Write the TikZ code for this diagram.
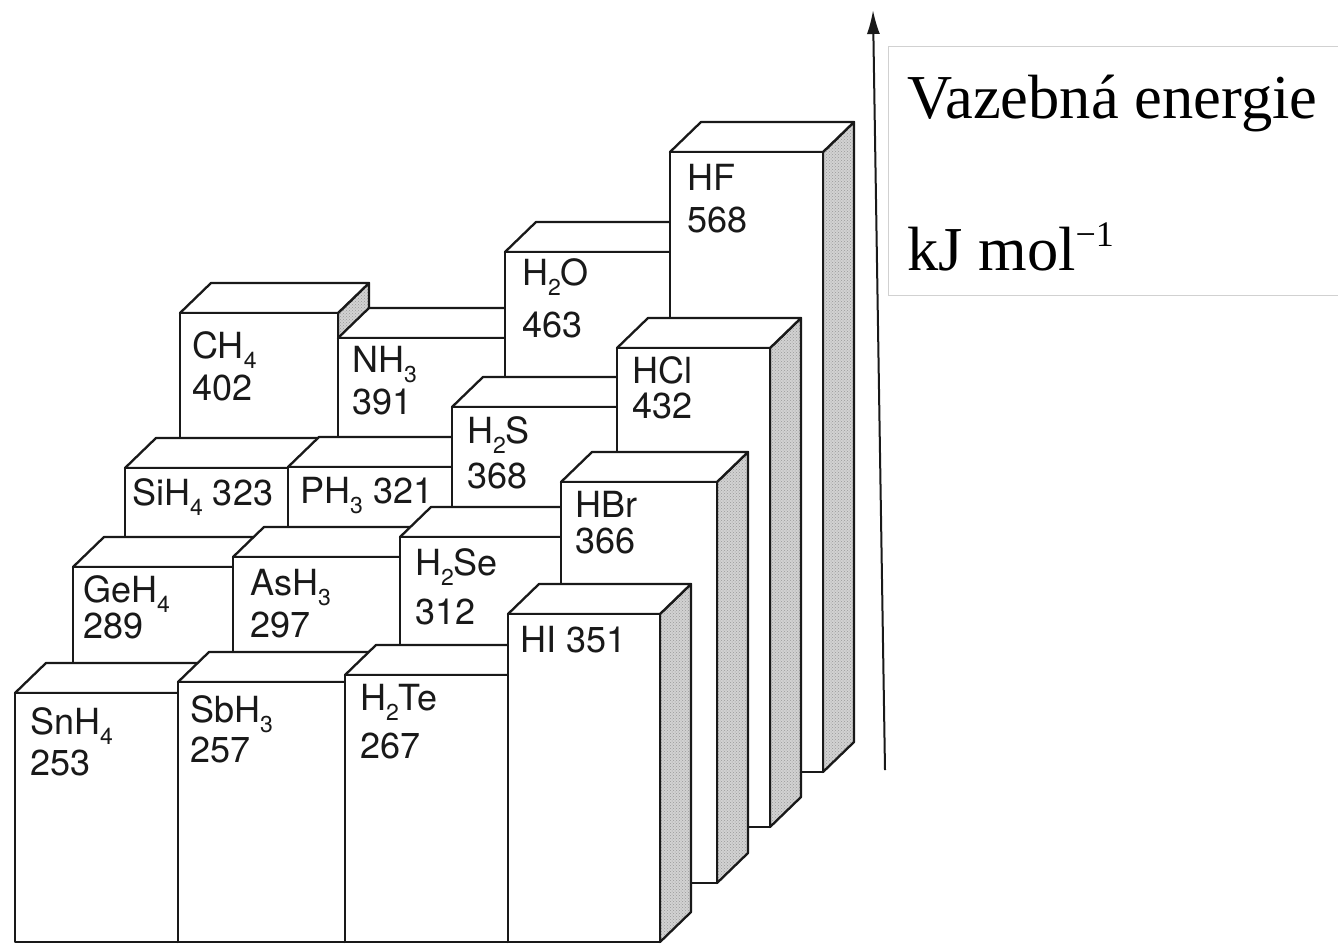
\documentclass[tikz,border=0pt]{standalone}
\usepackage{fontspec}
\setmainfont{Liberation Serif}
\newfontfamily\labfont{TeX Gyre Heros}
\usetikzlibrary{arrows.meta,patterns}
\newcommand\chemsub[1]{\raisebox{-10pt}{\fontsize{23}{23}\selectfont #1}}
\newcommand\drawbar[4]{%
  \filldraw[barline, preaction={fill=gray!35}, pattern=crosshatch dots, pattern color=gray!80]
    (#2,#3) -- ++(31,-30) -- (#2+31,#4-30) -- (#2,#4) -- cycle;
  \filldraw[barline, fill=white] (#1,#3) -- (#2,#3) -- ++(31,-30) -- (#1+31,#3-30) -- cycle;
  \filldraw[barline, fill=white] (#1,#3) rectangle (#2,#4);
}
\begin{document}
\begin{tikzpicture}[x=1pt,y=-1pt,
  barline/.style={draw=black!90, line width=2.3pt, line join=round},
  lab/.style={anchor=base west, inner sep=0pt, font=\labfont\fontsize{36}{40}\selectfont, text=black!90},
  big/.style={anchor=base west, inner sep=0pt, font=\fontsize{62.5}{70}\selectfont}]
\useasboundingbox (0,0) rectangle (1338,945);
\fill[white] (0,0) rectangle (1338,945);
% row 1 (back)
\drawbar{180}{338}{313}{772}
\drawbar{338}{505}{338}{772}
\drawbar{505}{670}{252}{772}
\drawbar{670}{823}{152}{772}
% row 2
\drawbar{125}{288}{468}{827}
\drawbar{288}{452}{467}{827}
\drawbar{452}{617}{407}{827}
\drawbar{617}{770}{348}{827}
% row 3
\drawbar{73}{233}{567}{883}
\drawbar{233}{400}{557}{883}
\drawbar{400}{561}{537}{883}
\drawbar{561}{717}{482}{883}
% row 4 (front)
\drawbar{15}{178}{693}{942}
\drawbar{178}{345}{682}{942}
\drawbar{345}{508}{675}{942}
\drawbar{508}{660}{614}{942}
% labels
\node[lab] (CH4) at (192,358) {CH\chemsub{4}};
\node[lab] (CH4v) at (192,400) {402};
\node[lab] (NH3) at (352,372) {NH\chemsub{3}};
\node[lab] (NH3v) at (352,414) {391};
\node[lab] (H2O) at (522,285) {H\chemsub{2}O};
\node[lab] (H2Ov) at (522,337) {463};
\node[lab] (HF) at (687,190) {HF};
\node[lab] (HFv) at (687,232) {568};
\node[lab] (SiH4) at (132,505) {SiH\chemsub{4} 323};
\node[lab] (PH3) at (300,503) {PH\chemsub{3} 321};
\node[lab] (H2S) at (467,443) {H\chemsub{2}S};
\node[lab] (H2Sv) at (467,488) {368};
\node[lab] (HCl) at (632,383) {HCl};
\node[lab] (HClv) at (632,418) {432};
\node[lab] (GeH4) at (83,602) {GeH\chemsub{4}};
\node[lab] (GeH4v) at (83,638) {289};
\node[lab] (AsH3) at (250,595) {AsH\chemsub{3}};
\node[lab] (AsH3v) at (250,637) {297};
\node[lab] (H2Se) at (415,575) {H\chemsub{2}Se};
\node[lab] (H2Sev) at (415,624) {312};
\node[lab] (HBr) at (575,517) {HBr};
\node[lab] (HBrv) at (575,553) {366};
\node[lab] (SnH4) at (30,734) {SnH\chemsub{4}};
\node[lab] (SnH4v) at (30,775) {253};
\node[lab] (SbH3) at (190,722) {SbH\chemsub{3}};
\node[lab] (SbH3v) at (190,762) {257};
\node[lab] (H2Te) at (360,710) {H\chemsub{2}Te};
\node[lab] (H2Tev) at (360,758) {267};
\node[lab] (HI) at (520,652) {HI 351};
% axis
\coordinate (axb) at (885,770);
\coordinate (axt) at (873,10);
\draw[line width=2pt, black!90, -{Latex[length=24pt,width=13pt]}] (axb) -- (axt);
% legend box
\draw[draw=black!18, line width=1pt] (1345,46) -- (888,46) -- (888,295) -- (1345,295);
\node[big] (title) at (907,118) {Vazebná energie};
\node[big] (unit) at (907,270) {kJ mol\raisebox{24pt}{\fontsize{36}{36}\selectfont −1}};
\end{tikzpicture}
\end{document}
